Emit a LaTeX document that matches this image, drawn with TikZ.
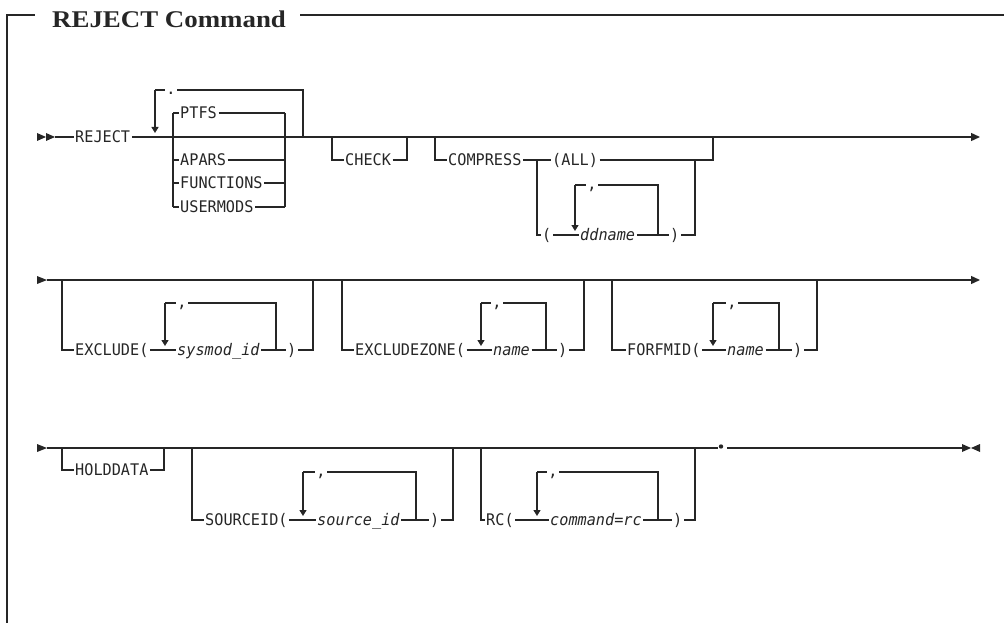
\documentclass[tikz,border=0pt]{standalone}
\usepackage{fontspec}
\usetikzlibrary{arrows.meta}
\newfontfamily\synfont{DejaVu Sans Mono}
\newfontfamily\ttlfont{Liberation Serif}
\newcommand\lbl[1]{\raisebox{-5.8pt}{\scalebox{0.95}[1]{#1}}}
\newcommand\sepch[1]{\raisebox{-4.5pt}{#1}}
\definecolor{ink}{HTML}{262626}
\begin{document}
\begin{tikzpicture}[x=1pt,y=-1pt,
  ln/.style={draw=ink, line width=1.3pt},
  frame/.style={draw=ink, line width=1.3pt},
  kw/.style={anchor=west, inner xsep=1.5pt, inner ysep=0pt, text height=0pt, text depth=0pt, text=ink,
     font=\synfont\fontsize{16}{19}\selectfont},
  var/.style={kw, font=\synfont\itshape\fontsize{16}{19}\selectfont},
  sepnode/.style={inner sep=0pt, minimum width=12pt, text height=0pt, text depth=0pt, text=ink,
     font=\synfont\fontsize{16}{19}\selectfont},
  rep/.style={ln, -{Triangle[width=7pt,length=6pt]}},
  endarrow/.style={ln, -{Triangle[width=8pt,length=9pt]}},
  inkfill/.style={fill=ink}
]
\useasboundingbox (0,0) rectangle (1004,623);

% ---------- frame and title ----------
\coordinate (fr1) at (7,623);
\coordinate (fr2) at (7,15);
\coordinate (fr3) at (35,15);
\coordinate (fr4) at (300,15);
\coordinate (fr5) at (1004,15);
\draw[frame] (fr1) -- (fr2) -- (fr3);
\draw[frame] (fr4) -- (fr5);
\node[anchor=base west, inner sep=0pt, text=ink] (title) at (52,28)
  {\ttlfont\bfseries\fontsize{24}{28}\selectfont\scalebox{1.12}[1]{REJECT Command}};

% ================= Row 1 =================
\fill[inkfill] (37,133) -- (46,137) -- (37,141) -- cycle;
\fill[inkfill] (46,133) -- (55,137) -- (46,141) -- cycle;
\coordinate (a0) at (55,137);
\coordinate (a9) at (980,137);
\node[kw] (rej) at (73.5,137) {\lbl{REJECT}};
\draw[ln] (a0) -- (rej.west);
\draw[endarrow] (rej.east) -- (a9);

% repeat loop with "."
\coordinate (p1) at (155,90);
\coordinate (p2) at (155,133);
\coordinate (p3) at (303,90);
\coordinate (p4) at (303,137);
\node[sepnode] (dot1) at (171,90) {\sepch{.}};
\draw[rep] (p1) -- (p2);
\draw[ln] (p1) -- (dot1.west);
\draw[ln] (dot1.east) -- (p3) -- (p4);

% PTFS / APARS / FUNCTIONS / USERMODS stack
\coordinate (s1) at (173,113);
\coordinate (s2) at (173,207);
\coordinate (s3) at (285,113);
\coordinate (s4) at (285,207);
\draw[ln] (s1) -- (s2);
\draw[ln] (s3) -- (s4);
\node[kw] (ptfs) at (178.5,113) {\lbl{PTFS}};
\node[kw] (apars) at (178.5,160) {\lbl{APARS}};
\node[kw] (func) at (178.5,183) {\lbl{FUNCTIONS}};
\node[kw] (user) at (178.5,207) {\lbl{USERMODS}};
\foreach \n in {ptfs,apars,func,user}{
  \draw[ln] (s1 |- \n.west) -- (\n.west);
  \draw[ln] (\n.east) -- (s3 |- \n.east);
}

% CHECK
\coordinate (c1) at (332,137);
\coordinate (c2) at (407,137);
\node[kw] (chk) at (343.5,160) {\lbl{CHECK}};
\draw[ln] (c1) -- (c1 |- chk.west) -- (chk.west);
\draw[ln] (chk.east) -- (c2 |- chk.east) -- (c2);

% COMPRESS
\coordinate (m1) at (435,137);
\coordinate (m2) at (713,137);
\node[kw] (comp) at (446.5,160) {\lbl{COMPRESS}};
\node[kw] (all) at (550.5,160) {\lbl{(ALL)}};
\draw[ln] (m1) -- (m1 |- comp.west) -- (comp.west);
\draw[ln] (comp.east) -- (all.west);
\draw[ln] (all.east) -- (m2 |- all.east) -- (m2);
\coordinate (i1) at (537,160);
\coordinate (i2) at (695,160);
\node[kw] (lp1) at (540.5,235) {\lbl{(}};
\node[var] (dd) at (578.5,235) {\lbl{ddname}};
\node[kw] (rp1) at (668.5,235) {\lbl{)}};
\draw[ln] (i1) -- (i1 |- lp1.west) -- (lp1.west);
\draw[ln] (lp1.east) -- (dd.west);
\draw[ln] (dd.east) -- (rp1.west);
\draw[ln] (rp1.east) -- (i2 |- rp1.east) -- (i2);
\coordinate (q1) at (575,185);
\coordinate (q2) at (575,231);
\coordinate (q3) at (658,185);
\coordinate (q4) at (658,235);
\node[sepnode] (cm1) at (592,185) {\sepch{,}};
\draw[rep] (q1) -- (q2);
\draw[ln] (q1) -- (cm1.west);
\draw[ln] (cm1.east) -- (q3) -- (q4);

% ================= Row 2 =================
\fill[inkfill] (37,276) -- (47,280) -- (37,284) -- cycle;
\coordinate (b0) at (47,280);
\coordinate (b9) at (980,280);
\draw[endarrow] (b0) -- (b9);

% EXCLUDE
\coordinate (e1) at (62,280);
\coordinate (e2) at (313,280);
\node[kw] (ex) at (73.5,350) {\lbl{EXCLUDE(}};
\node[var] (sys) at (175.5,350) {\lbl{sysmod\_id}};
\node[kw] (exr) at (285.5,350) {\lbl{)}};
\draw[ln] (e1) -- (e1 |- ex.west) -- (ex.west);
\draw[ln] (ex.east) -- (sys.west);
\draw[ln] (sys.east) -- (exr.west);
\draw[ln] (exr.east) -- (e2 |- exr.east) -- (e2);
\coordinate (eq1) at (165,303);
\coordinate (eq2) at (165,346);
\coordinate (eq3) at (276,303);
\coordinate (eq4) at (276,350);
\node[sepnode] (cm2) at (182,303) {\sepch{,}};
\draw[rep] (eq1) -- (eq2);
\draw[ln] (eq1) -- (cm2.west);
\draw[ln] (cm2.east) -- (eq3) -- (eq4);

% EXCLUDEZONE
\coordinate (z1) at (342,280);
\coordinate (z2) at (584,280);
\node[kw] (exz) at (353.5,350) {\lbl{EXCLUDEZONE(}};
\node[var] (nm1) at (491.5,350) {\lbl{name}};
\node[kw] (exzr) at (556.5,350) {\lbl{)}};
\draw[ln] (z1) -- (z1 |- exz.west) -- (exz.west);
\draw[ln] (exz.east) -- (nm1.west);
\draw[ln] (nm1.east) -- (exzr.west);
\draw[ln] (exzr.east) -- (z2 |- exzr.east) -- (z2);
\coordinate (zq1) at (481,303);
\coordinate (zq2) at (481,346);
\coordinate (zq3) at (546,303);
\coordinate (zq4) at (546,350);
\node[sepnode] (cm3) at (497,303) {\sepch{,}};
\draw[rep] (zq1) -- (zq2);
\draw[ln] (zq1) -- (cm3.west);
\draw[ln] (cm3.east) -- (zq3) -- (zq4);

% FORFMID
\coordinate (g1) at (612,280);
\coordinate (g2) at (817,280);
\node[kw] (ff) at (625.5,350) {\lbl{FORFMID(}};
\node[var] (nm2) at (725.5,350) {\lbl{name}};
\node[kw] (ffr) at (791.5,350) {\lbl{)}};
\draw[ln] (g1) -- (g1 |- ff.west) -- (ff.west);
\draw[ln] (ff.east) -- (nm2.west);
\draw[ln] (nm2.east) -- (ffr.west);
\draw[ln] (ffr.east) -- (g2 |- ffr.east) -- (g2);
\coordinate (gq1) at (713,303);
\coordinate (gq2) at (713,346);
\coordinate (gq3) at (779,303);
\coordinate (gq4) at (779,350);
\node[sepnode] (cm4) at (732,303) {\sepch{,}};
\draw[rep] (gq1) -- (gq2);
\draw[ln] (gq1) -- (cm4.west);
\draw[ln] (cm4.east) -- (gq3) -- (gq4);

% ================= Row 3 =================
\fill[inkfill] (37,444) -- (47,448) -- (37,452) -- cycle;
\coordinate (d0) at (47,448);
\coordinate (d1) at (718,448);
\coordinate (dd1) at (721,446.5);
\coordinate (d2) at (727,448);
\coordinate (d3) at (745,448);
\coordinate (d4) at (962,448);
\draw[ln] (d0) -- (d1);
\fill[inkfill] (dd1) circle (2.2);
\draw[draw=ink, line width=2.4pt] (d2) -- (d3);
\draw[ln] (d3) -- (d4);
\fill[inkfill] (962,444) -- (971,448) -- (962,452) -- cycle;
\fill[inkfill] (980,444) -- (971,448) -- (980,452) -- cycle;

% HOLDDATA
\coordinate (h1) at (62,448);
\coordinate (h2) at (164,448);
\node[kw] (hold) at (73.5,470) {\lbl{HOLDDATA}};
\draw[ln] (h1) -- (h1 |- hold.west) -- (hold.west);
\draw[ln] (hold.east) -- (h2 |- hold.east) -- (h2);

% SOURCEID
\coordinate (o1) at (192,448);
\coordinate (o2) at (453,448);
\node[kw] (src) at (203.5,520) {\lbl{SOURCEID(}};
\node[var] (sid) at (315.5,520) {\lbl{source\_id}};
\node[kw] (srcr) at (428.5,520) {\lbl{)}};
\draw[ln] (o1) -- (o1 |- src.west) -- (src.west);
\draw[ln] (src.east) -- (sid.west);
\draw[ln] (sid.east) -- (srcr.west);
\draw[ln] (srcr.east) -- (o2 |- srcr.east) -- (o2);
\coordinate (oq1) at (303,472);
\coordinate (oq2) at (303,516);
\coordinate (oq3) at (416,472);
\coordinate (oq4) at (416,520);
\node[sepnode] (cm5) at (321,472) {\sepch{,}};
\draw[rep] (oq1) -- (oq2);
\draw[ln] (oq1) -- (cm5.west);
\draw[ln] (cm5.east) -- (oq3) -- (oq4);

% RC
\coordinate (r1) at (481,448);
\coordinate (r2) at (695,448);
\node[kw] (rc) at (484.5,520) {\lbl{RC(}};
\node[var] (cmd) at (548.5,520) {\lbl{command=rc}};
\node[kw] (rcr) at (671.5,520) {\lbl{)}};
\draw[ln] (r1) -- (r1 |- rc.west) -- (rc.west);
\draw[ln] (rc.east) -- (cmd.west);
\draw[ln] (cmd.east) -- (rcr.west);
\draw[ln] (rcr.east) -- (r2 |- rcr.east) -- (r2);
\coordinate (rq1) at (537,472);
\coordinate (rq2) at (537,516);
\coordinate (rq3) at (658,472);
\coordinate (rq4) at (658,520);
\node[sepnode] (cm6) at (553,472) {\sepch{,}};
\draw[rep] (rq1) -- (rq2);
\draw[ln] (rq1) -- (cm6.west);
\draw[ln] (cm6.east) -- (rq3) -- (rq4);
\end{tikzpicture}
\end{document}
